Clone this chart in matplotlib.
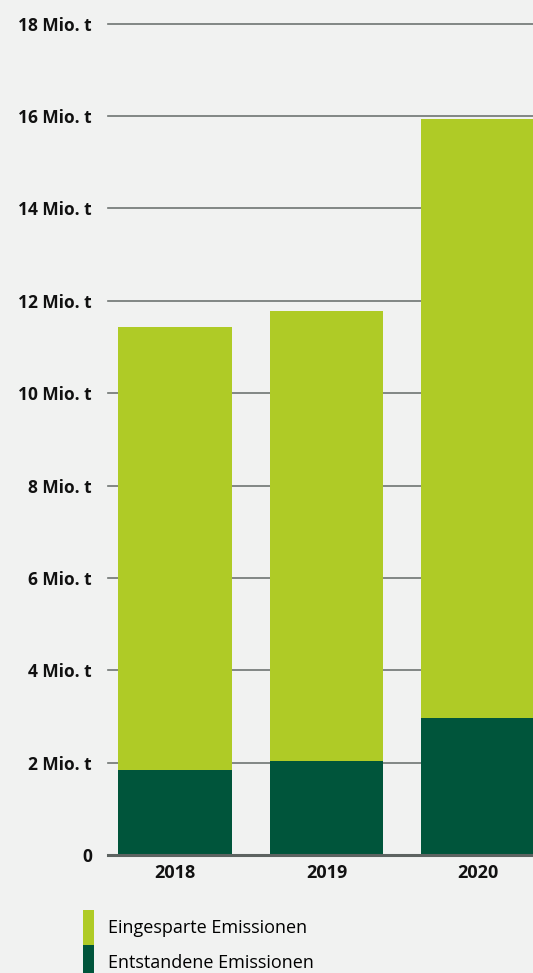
import numpy as np
import matplotlib
matplotlib.use("Agg")
import matplotlib.pyplot as plt
from matplotlib.patches import Patch

# values in Mio. t
years = ["2018", "2019", "2020"]
entstanden = [1.84, 2.04, 2.96]
gesamt = [11.43, 11.77, 15.93]
eingespart = [g - e for g, e in zip(gesamt, entstanden)]

ytick_vals = [0, 2, 4, 6, 8, 10, 12, 14, 16, 18]
ytick_labels = ["0"] + [f"{v} Mio. t" for v in ytick_vals[1:]]
legend_labels = ["Eingesparte Emissionen", "Entstandene Emissionen"]

bg = "#f1f2f1"
light = "#afcb26"
dark = "#00553b"
grid_c = "#6f7472"

plt.rcParams["font.family"] = ["Open Sans", "DejaVu Sans"]

W, H = 533, 973
fig = plt.figure(figsize=(W / 100, H / 100), dpi=100, facecolor=bg)
ax = fig.add_axes([108 / W, 1 - 855 / H, (W - 108) / W, (855 - 23.7) / H])
ax.set_facecolor(bg)

x = np.arange(len(years))
ax.bar(x, entstanden, width=0.752, color=dark, zorder=3)
ax.bar(x, eingespart, width=0.752, bottom=entstanden, color=light, zorder=3)

ax.set_xlim(-0.442, 2.363)
ax.set_ylim(0, 18)
ax.set_yticks(ytick_vals)
ax.set_yticklabels(ytick_labels, fontweight="bold", fontsize=12.5, color="#111111")
ax.set_xticks(x)
ax.set_xticklabels(years, fontweight="bold", fontsize=13, color="#111111")
ax.tick_params(axis="y", length=0, pad=11.5)
ax.tick_params(axis="x", length=0, pad=6.5)

for v in ytick_vals[1:]:
    ax.axhline(v, color=grid_c, lw=1.2, zorder=1, clip_on=False)
ax.axhline(0, color="#5d6361", lw=2.2, zorder=4, clip_on=False)

for s in ax.spines.values():
    s.set_visible(False)

fs_leg = 13
handles = [Patch(facecolor=light, edgecolor="none"), Patch(facecolor=dark, edgecolor="none")]
fig.legend(handles, legend_labels, loc="upper left",
           bbox_to_anchor=(83 / W, 1 - 910 / H), frameon=False,
           fontsize=fs_leg, borderpad=0, labelspacing=0, borderaxespad=0,
           handlelength=0.61, handleheight=2.6, handletextpad=0.8)

fig.savefig("out.png", dpi=100, facecolor=bg)
